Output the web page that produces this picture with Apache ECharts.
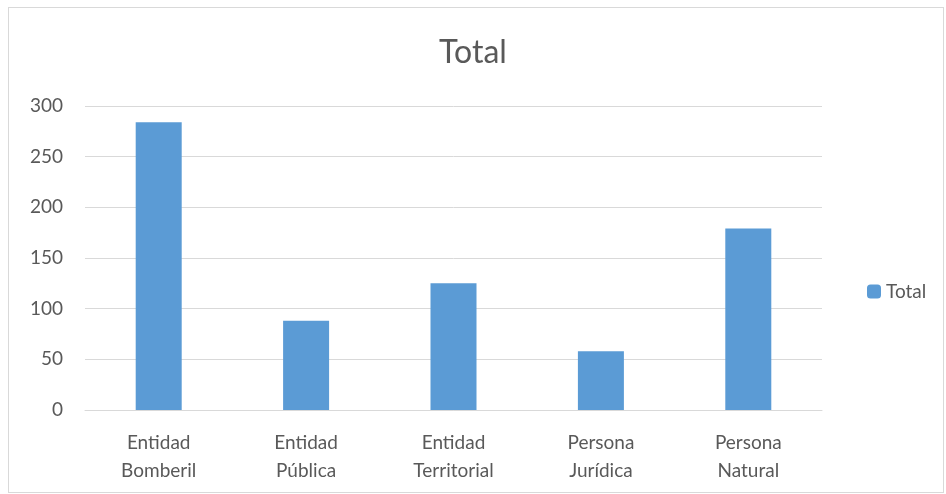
<!DOCTYPE html>
<html>
<head>
<meta charset="utf-8">
<script src="https://cdn.jsdelivr.net/npm/echarts@6/dist/echarts.min.js"></script>
<style>
  html, body { margin: 0; padding: 0; background: #fff; }
  #frame { position: absolute; left: 8px; top: 7px; width: 936px; height: 486px; border: 1px solid #d9d9d9; box-sizing: border-box; }
  #chart { width: 946px; height: 494px; position: absolute; left: 0; top: 0; }
</style>
</head>
<body>
<div id="frame"></div>
<div id="chart"></div>
<script>
var categories = ["Entidad\nBomberil", "Entidad\nPública", "Entidad\nTerritorial", "Persona\nJurídica", "Persona\nNatural"];
var totalValues = [284, 88, 125, 58, 179];
var seriesName = "Total";

var chart = echarts.init(document.getElementById("chart"));
chart.setOption({
  animation: false,
  textStyle: { fontFamily: "Lato" },
  title: {
    text: "Total",
    left: "center",
    top: 32,
    textStyle: { fontSize: 32, fontWeight: "normal", color: "#595959", fontFamily: "Lato" }
  },
  legend: {
    data: [seriesName],
    orient: "vertical",
    left: 862,
    top: 277,
    itemWidth: 14,
    itemHeight: 14,
    itemGap: 8,
    textStyle: { fontSize: 19, color: "#595959" }
  },
  grid: { left: 85, right: 124, top: 106, bottom: 84 },
  xAxis: {
    type: "category",
    data: categories,
    axisLine: { lineStyle: { color: "#d9d9d9", width: 1 } },
    axisTick: { show: false },
    axisLabel: { fontSize: 19, color: "#595959", lineHeight: 28, margin: 19 }
  },
  yAxis: {
    type: "value",
    min: 0,
    max: 300,
    interval: 50,
    axisLine: { show: false },
    axisTick: { show: false },
    splitLine: { lineStyle: { color: "#d9d9d9", width: 1 } },
    axisLabel: { fontSize: 19, color: "#595959", margin: 22 }
  },
  series: [{
    name: seriesName,
    type: "bar",
    data: totalValues,
    barWidth: 46,
    itemStyle: { color: "#5b9bd5" }
  }]
});
</script>
</body>
</html>
